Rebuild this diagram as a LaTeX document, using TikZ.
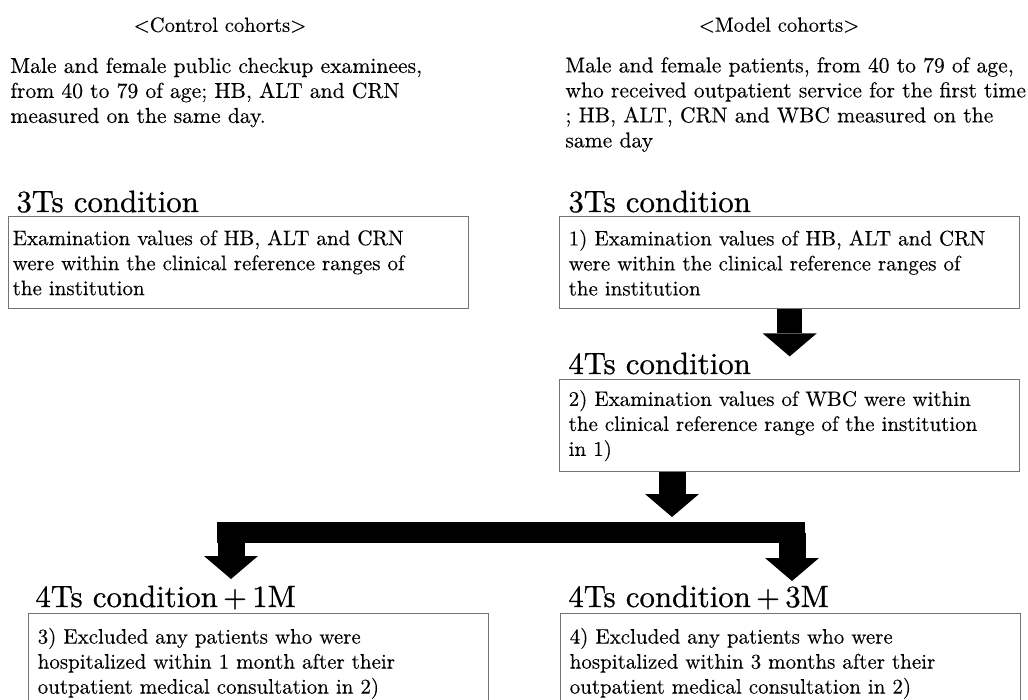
\documentclass[tikz,border=0pt]{standalone}
\usepackage{fontspec}
\usepackage{tikz}
\usetikzlibrary{arrows.meta}

\newfontfamily\headfont{lmroman10-regular.otf}[FakeBold=0.7]
\newfontfamily\bodyfont{lmroman10-regular.otf}[FakeBold=0.25]
\newcommand{\plusgap}{\hspace{.17em}+\hspace{.17em}}

\tikzset{
  body/.style={font=\bodyfont\fontsize{10.8}{12.5}\selectfont, align=left, inner sep=0pt},
  heading/.style={font=\headfont\fontsize{15.4}{18}\selectfont, anchor=base west, inner sep=0pt},
  condbox/.style={draw=black!55, line width=.7pt, anchor=north west, align=left,
    font=\bodyfont\fontsize{10.5}{12.5}\selectfont, text width=221pt,
    inner xsep=4.5pt, inner ysep=0pt, minimum height=46pt},
  fatarrow/.style={line width=13.5pt,
    -{Triangle[width=27pt, length=11.5pt, line width=0pt]}},
  fatbar/.style={line width=10.5pt}
}

\begin{document}
\begin{tikzpicture}[x=0.5pt, y=-0.5pt]
        \useasboundingbox (0,0) rectangle (1028,700);
        \clip (0,0) rectangle (1028,700);

        % Cohort titles and descriptions
        \node[body, font=\bodyfont\fontsize{10.3}{12.5}\selectfont] (ctitle) at (220,25) {\textless Control cohorts\textgreater};
        \node[body, font=\bodyfont\fontsize{10.3}{12.5}\selectfont] (mtitle) at (779,25) {\textless Model cohorts\textgreater};
        \node[body, anchor=west] (cdesc) at (10,92.5)
            {Male and female public checkup examinees,\\ from 40 to 79 of age; HB, ALT and CRN\\ measured on the same day.};
        \node[body, anchor=west] (mdesc) at (565,104.5)
            {Male and female patients, from 40 to 79 of age,\\ who received outpatient service for the first time\\ ; HB, ALT, CRN and WBC measured on the\\ same day};

        % 3Ts condition
        \node[heading] (c3head) at (16,212) {3Ts condition};
        \node[condbox, inner xsep=2pt, text width=226pt] (c3box) at (8,216)
            {Examination values of HB, ALT and CRN\\ were within the clinical reference ranges of\\ the institution};
        \node[heading] (m3head) at (568,212) {3Ts condition};
        \node[condbox] (m3box) at (559,216)
            {1) Examination values of HB, ALT and CRN\\ were within the clinical reference ranges of\\ the institution};

        % 4Ts condition
        \node[heading] (m4head) at (568,374) {4Ts condition};
        \node[condbox] (m4box) at (559,379)
            {2) Examination values of WBC were within\\ the clinical reference range of the institution\\ in 1)};

        % 4Ts condition + 1M / + 3M (boxes run past the lower edge)
        \node[heading] (c1mhead) at (35,607) {4Ts condition\plusgap 1M};
        \node[condbox, minimum height=59.5pt] (c1mbox) at (28,613)
            {3) Excluded any patients who were\\ hospitalized within 1 month after their\\ outpatient medical consultation in 2)\\ \mbox{}};
        \node[heading] (c3mhead) at (568,607) {4Ts condition\plusgap 3M};
        \node[condbox, minimum height=59.5pt] (c3mbox) at (560,613)
            {4) Excluded any patients who were\\ hospitalized within 3 months after their\\ outpatient medical consultation in 2)\\ \mbox{}};

        % Block arrows
        \coordinate (split) at (672,517);
        \coordinate (barL) at (217,532.5);
        \coordinate (barR) at (805,532.5);
        \coordinate (tipL) at (231,579);
        \coordinate (tipR) at (792,581);
        \draw[fatarrow, line width=12.5pt] (m3box.south) -- ++(0,47);
        \draw[fatarrow] (m4box.south -| split) -- (split);
        \draw[fatbar] (barL) -- (barR);
        \draw[fatarrow] (tipL |- barL) -- (tipL);
        \draw[fatarrow] (tipR |- barR) -- (tipR);
\end{tikzpicture}
\end{document}
